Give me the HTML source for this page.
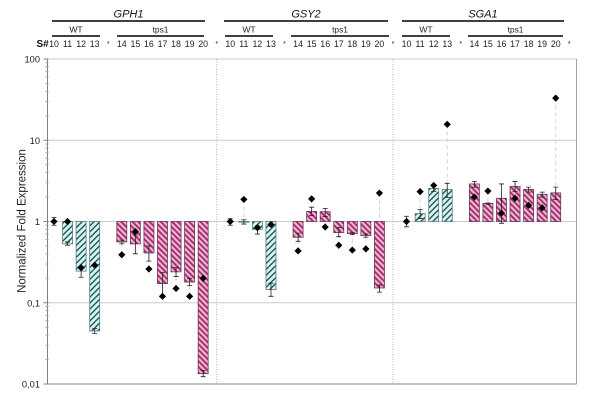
<!DOCTYPE html>
<html>
<head>
<meta charset="utf-8">
<title>Normalized Fold Expression</title>
<style>
html,body{margin:0;padding:0;background:#fff;width:600px;height:403px;overflow:hidden}
svg{display:block;font-family:"Liberation Sans",sans-serif}
</style>
</head>
<body>
<svg id="chart" xmlns="http://www.w3.org/2000/svg" width="600" height="403" viewBox="0 0 600 403">
<defs>
<pattern id="hatch-wt" patternUnits="userSpaceOnUse" width="4.2" height="4.2" patternTransform="rotate(45)">
<rect width="4.2" height="4.2" fill="#d2f6f4"></rect>
<rect width="1.3" height="4.2" fill="#1c4a4c"></rect>
</pattern>
<pattern id="hatch-tps" patternUnits="userSpaceOnUse" width="4" height="4" patternTransform="rotate(-45)">
<rect width="4" height="4" fill="#f4b4d2"></rect>
<rect width="1.8" height="4" fill="#9a2c6c"></rect>
</pattern>
</defs>
</svg>
<script>
// ---- data ----
const genes = ["GPH1", "GSY2", "SGA1"];
const samples = ["10", "11", "12", "13", "*", "14", "15", "16", "17", "18", "19", "20", "*"];
const yTickValues = [100, 10, 1, 0.1, 0.01];
const yTickLabels = ["100", "10", "1", "0,1", "0,01"];

const gph1Bars = [1, 0.53, 0.245, 0.045, null, 0.56, 0.53, 0.41, 0.172, 0.24, 0.18, 0.0134];
const gph1Low = [0.9, 0.51, 0.206, 0.042, null, 0.53, 0.40, 0.325, 0.123, 0.21, 0.163, 0.0123];
const gph1High = [1.12, 0.56, 0.27, 0.048, null, 0.59, 0.68, 0.50, 0.235, 0.27, 0.2, 0.0147];
const gph1Points = [1, 1, 0.27, 0.29, null, 0.39, 0.75, 0.26, 0.12, 0.15, 0.12, 0.2];

const gsy2Bars = [1, 0.98, 0.8, 0.145, null, 0.64, 1.33, 1.32, 0.73, 0.71, 0.67, 0.152];
const gsy2Low = [0.9, 0.93, 0.70, 0.12, null, 0.57, 1.18, 1.15, 0.65, 0.69, 0.64, 0.135];
const gsy2High = [1.08, 1.05, 0.88, 0.174, null, 0.72, 1.5, 1.45, 0.84, 0.73, 0.7, 0.165];
const gsy2Points = [1, 1.87, 0.84, 0.92, null, 0.435, 1.9, 0.855, 0.51, 0.445, 0.46, 2.24];

const sga1Bars = [1, 1.25, 2.56, 2.48, null, 2.9, 1.67, 1.93, 2.7, 2.48, 2.16, 2.25];
const sga1Low = [0.86, 1.09, 2.35, 1.98, null, 2.64, 1.64, 0.95, 2.35, 2.3, 2.0, 1.86];
const sga1High = [1.16, 1.4, 2.75, 2.95, null, 3.12, 1.69, 2.9, 3.1, 2.65, 2.3, 2.65];
const sga1Points = [1, 2.33, 2.78, 15.7, null, 2.0, 2.37, 1.27, 1.93, 1.58, 1.47, 33];

// ---- layout and axis functions ----
const svg = document.getElementById('chart');
const NS = 'http://www.w3.org/2000/svg';
const plotLeft = 47.5, plotRight = 576.5, plotTop = 59, plotBottom = 384;
const slotWidth = 13.56, firstSlot = 54;
const barWidth = 10;
const yMaxLog = Math.log10(yTickValues[0]);
const yMinLog = Math.log10(yTickValues[yTickValues.length - 1]);

function yScale(v) {
  return plotTop + (yMaxLog - Math.log10(v)) / (yMaxLog - yMinLog) * (plotBottom - plotTop);
}
function xScale(geneIndex, sampleIndex) {
  return firstSlot + (geneIndex * samples.length + sampleIndex) * slotWidth;
}
function make(tag, attrs, text) {
  const el = document.createElementNS(NS, tag);
  for (const k in attrs) el.setAttribute(k, attrs[k]);
  if (text !== undefined) el.textContent = text;
  svg.appendChild(el);
  return el;
}

// ---- gridlines ----
yTickValues.slice(0, 4).forEach(function (v) {
  const g = make('line', {x1: plotLeft, x2: plotRight, y1: yScale(v), y2: yScale(v), stroke: '#cccccc', 'stroke-width': 1});
  
  
});

// ---- gene separators ----
[0, 1].forEach(function (g) {
  const x = xScale(g, 12);
  const s = make('line', {x1: x, x2: x, y1: plotTop, y2: plotBottom, stroke: '#b4b4b4', 'stroke-width': 1, 'stroke-dasharray': '1 1.5'});
  
  
});

// ---- plot frame ----
const axisY = make('line', {x1: plotLeft, x2: plotLeft, y1: plotTop, y2: plotBottom, stroke: '#808080', 'stroke-width': 1});


const axisX = make('line', {x1: plotLeft, x2: plotRight, y1: plotBottom, y2: plotBottom, stroke: '#808080', 'stroke-width': 1});


const frameR = make('line', {x1: plotRight, x2: plotRight, y1: plotTop, y2: plotBottom, stroke: '#a0a0a0', 'stroke-width': 1});



// ---- y ticks and labels ----
yTickValues.forEach(function (v, i) {
  const y = yScale(v);
  const t = make('line', {x1: plotLeft - 4, x2: plotLeft + 1, y1: y, y2: y, stroke: '#808080', 'stroke-width': 1});
  
  
  const l = make('text', {x: 40, y: y + 3.5, 'text-anchor': 'end', 'font-size': 9.3, fill: '#222'}, yTickLabels[i]);
  
  
  if (i < yTickValues.length - 1) {
    for (let m = 2; m < 10; m++) {
      const my = yScale(yTickValues[i + 1] * m);
      const mt = make('line', {x1: plotLeft - 2, x2: plotLeft + 1, y1: my, y2: my, stroke: '#a0a0a0', 'stroke-width': 1});
      
      
    }
  }
});

const yTitle = make('text', {x: 0, y: 0, transform: 'translate(25.5 221) rotate(-90)', 'text-anchor': 'middle', 'font-size': 11.5, fill: '#222'}, 'Normalized Fold Expression');



// ---- header ----
const sLabel = make('text', {x: 36.5, y: 47, 'font-size': 10, 'font-weight': 'bold', fill: '#111'}, 'S#');



// bracket offsets (px) from the first slot of each gene's panel
const geneBracketStart = [52, 224, 402];
const geneBracketEnd = [205, 388, 564];
const wtBracketStart = [52, 225, 402];
const wtBracketEnd = [100, 273, 450];
const tpsBracketStart = [117, 291, 468];
const tpsBracketEnd = [204, 389, 563];

genes.forEach(function (gene, g) {
  const gx1 = geneBracketStart[g];
  const gx2 = geneBracketEnd[g];
  const name = make('text', {x: (gx1 + gx2) / 2, y: 17.5, 'text-anchor': 'middle', 'font-size': 11, 'font-style': 'italic', fill: '#111'}, gene);
  
  
  const line = make('line', {x1: gx1, x2: gx2, y1: 21, y2: 21, stroke: '#000', 'stroke-width': 1.6});
  
  

  const wtx1 = wtBracketStart[g], wtx2 = wtBracketEnd[g];
  const wt = make('text', {x: (wtx1 + wtx2) / 2, y: 32.5, 'text-anchor': 'middle', 'font-size': 8.6, fill: '#222'}, 'WT');
  
  
  const wtLine = make('line', {x1: wtx1, x2: wtx2, y1: 36, y2: 36, stroke: '#000', 'stroke-width': 1.4});
  
  

  const tx1 = tpsBracketStart[g], tx2 = tpsBracketEnd[g];
  const tp = make('text', {x: (tx1 + tx2) / 2, y: 32.5, 'text-anchor': 'middle', 'font-size': 8.4, fill: '#222'}, 'tps1');
  
  
  const tpLine = make('line', {x1: tx1, x2: tx2, y1: 36, y2: 36, stroke: '#000', 'stroke-width': 1.4});
  
  

  samples.forEach(function (s, i) {
    const star = s === '*';
    const lab = make('text', {x: xScale(g, i), y: star ? 46 : 47, 'text-anchor': 'middle', 'font-size': star ? 7 : 8.8, fill: '#222'}, s);
    
    
  });
});

// ---- series ----
const barSets = [gph1Bars, gsy2Bars, sga1Bars];
const lowSets = [gph1Low, gsy2Low, sga1Low];
const highSets = [gph1High, gsy2High, sga1High];
const pointSets = [gph1Points, gsy2Points, sga1Points];

genes.forEach(function (gene, g) {
  barSets[g].forEach(function (v, i) {
    if (v === null) return;
    const x = xScale(g, i);
    const yBase = yScale(1), yVal = yScale(v);
    const pt = pointSets[g][i];
    const yPt = yScale(pt);

    // dashed drop line from the reference point to the bar end
    if (Math.abs(yPt - yVal) > 8) {
      const d = make('line', {x1: x, x2: x, y1: yPt, y2: yVal, stroke: '#d4d4d4', 'stroke-width': 1, 'stroke-dasharray': '4 3'});
      
      
    }

    // bar
    const top = Math.min(yBase, yVal), h = Math.abs(yVal - yBase);
    if (h > 0.5) {
      const b = make('rect', {
        x: x - barWidth / 2, y: top, width: barWidth, height: h,
        fill: i < 4 ? 'url(#hatch-wt)' : 'url(#hatch-tps)',
        stroke: i < 4 ? '#5a7c7c' : '#6a3454', 'stroke-width': 0.8
      });
      
      
    }

    // error bar
    const yLow = yScale(lowSets[g][i]), yHigh = yScale(highSets[g][i]);
    const e = make('path', {
      d: 'M' + x + ' ' + yHigh + 'V' + yLow + 'M' + (x - 2.5) + ' ' + yHigh + 'H' + (x + 2.5) + 'M' + (x - 2.5) + ' ' + yLow + 'H' + (x + 2.5),
      fill: 'none', stroke: '#222', 'stroke-width': 0.8
    });
    
    

    // diamond
    const dm = make('path', {
      d: 'M' + x + ' ' + (yPt - 3.6) + 'L' + (x + 3.6) + ' ' + yPt + 'L' + x + ' ' + (yPt + 3.6) + 'L' + (x - 3.6) + ' ' + yPt + 'Z',
      fill: '#000'
    });
    
    
  });
});
</script>
</body>
</html>
